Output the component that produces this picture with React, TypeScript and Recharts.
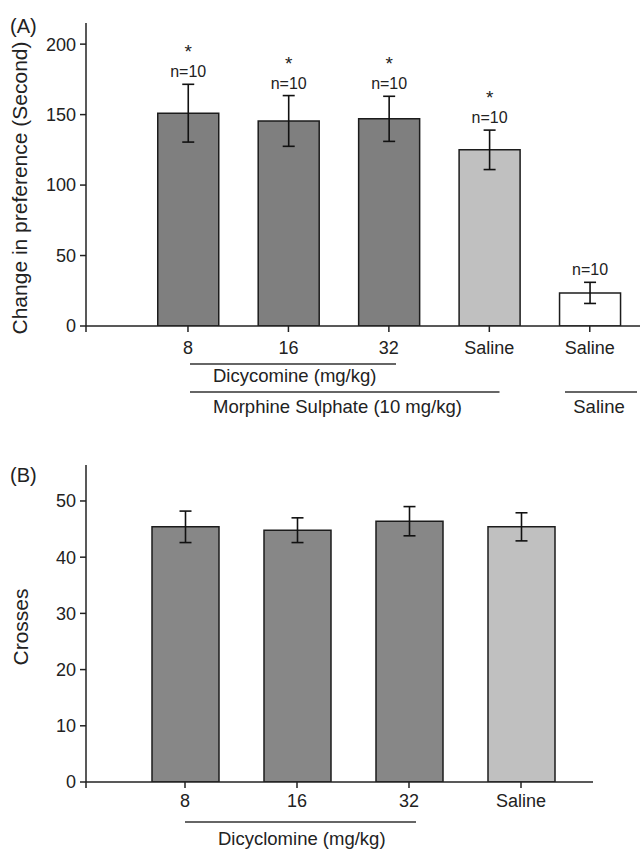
import { BarChart, Bar, XAxis, YAxis, ErrorBar, Cell, LabelList } from "recharts";

const FONT = '"Liberation Sans", Arial, Helvetica, sans-serif';
const INK = "#1c1c1c";

// (A) change in place preference, seconds
const groupsA = ["8", "16", "32", "Saline", "Saline"];
const prefMean = [151, 145.5, 147, 125, 23.5];
const prefSem = [20.5, 18, 16, 14, 7.5];
const prefN = ["n=10", "n=10", "n=10", "n=10", "n=10"];
const prefSig = ["*", "*", "*", "*", ""];
const ticksA = [0, 50, 100, 150, 200];

// (B) crosses
const groupsB = ["8", "16", "32", "Saline"];
const crossMean = [45.4, 44.8, 46.4, 45.4];
const crossSem = [2.8, 2.2, 2.6, 2.5];
const ticksB = [0, 10, 20, 30, 40, 50];

const FILL_A = ["#7f7f7f", "#7f7f7f", "#7f7f7f", "#c0c0c0", "#ffffff"];
const FILL_B = ["#878787", "#878787", "#878787", "#c0c0c0"];

const dataA = groupsA.map((g, i) => ({ key: `${g}-${i}`, mean: prefMean[i], sem: prefSem[i] }));
const dataB = groupsB.map((g, i) => ({ key: `${g}-${i}`, mean: crossMean[i], sem: crossSem[i] }));

// layout of both panels (page pixels)
const A = { left: 86, right: 640, top: 23, bottom: 326, padL: 51.75, band: 100.5 };
const B = { left: 86, right: 593, top: 465, bottom: 782, padL: 43, padR: 16, band: 112 };
const B_TOP = 440;
const cxA = (i: number) => A.left + A.padL + A.band * (i + 0.5);
const cxB = (i: number) => B.left + B.padL + B.band * (i + 0.5);

const tickStyle = { fontSize: 18, fill: "#222", fontFamily: FONT };

// n=10 and * above the error bars
function Annot(props: any) {
  const { x, y, width, height, value, index } = props;
  if (!value) return null;
  const pxPerUnit = height / value;
  const errTop = y - prefSem[index] * pxPerUnit;
  const cx = x + width / 2;
  return (
    <g fontFamily={FONT} fill="#222">
      <text x={cx} y={errTop - 7} textAnchor="middle" fontSize={16}>
        {prefN[index]}
      </text>
      {prefSig[index] && (
        <text x={cx} y={errTop - 26} textAnchor="middle" fontSize={19}>
          {prefSig[index]}
        </text>
      )}
    </g>
  );
}

function Overlay() {
  const line = { stroke: "#333", strokeWidth: 1.4 };
  return (
    <svg
      width={643}
      height={849}
      style={{ position: "absolute", left: 0, top: 0, pointerEvents: "none" }}
      fontFamily={FONT}
      fill="#222"
    >
      <text x={10} y={33} fontSize={20}>(A)</text>
      <text x={10} y={482} fontSize={20}>(B)</text>
      <text transform="translate(27,188) rotate(-90)" textAnchor="middle" fontSize={21}>
        Change in preference (Second)
      </text>
      <text transform="translate(28,627) rotate(-90)" textAnchor="middle" fontSize={21}>
        Crosses
      </text>

      {/* y axis runs a little past the origin */}
      <line x1={A.left} x2={A.left} y1={A.bottom} y2={A.bottom + 6} stroke="#222" strokeWidth={1.5} />
      <line x1={B.left} x2={B.left} y1={B.bottom} y2={B.bottom + 6} stroke="#222" strokeWidth={1.5} />

      {/* group brackets, panel A */}
      <line x1={cxA(0) + 2} x2={cxA(2) + 7} y1={364} y2={364} {...line} />
      <text x={213} y={382} fontSize={18.5}>Dicycomine (mg/kg)</text>
      <line x1={cxA(0) + 2} x2={cxA(3) + 10} y1={392} y2={392} {...line} />
      <text x={213} y={413} fontSize={18.5}>Morphine Sulphate (10 mg/kg)</text>
      <line x1={cxA(4) - 25} x2={cxA(4) + 47} y1={392} y2={392} {...line} />
      <text x={cxA(4) + 9} y={413} fontSize={18.5} textAnchor="middle">Saline</text>

      {/* group bracket, panel B */}
      <line x1={cxB(0)} x2={cxB(2) + 7} y1={822} y2={822} {...line} />
      <text x={218} y={845} fontSize={18.5}>Dicyclomine (mg/kg)</text>
    </svg>
  );
}

export default function App() {
  const hA = 430;
  const hB = 400;
  return (
    <div
      style={{
        position: "absolute",
        left: 0,
        top: 0,
        width: 643,
        height: 849,
        background: "#fff",
        overflow: "hidden",
        fontFamily: FONT,
      }}
    >
      <div style={{ position: "absolute", left: 0, top: 0 }}>
        <BarChart
          width={643}
          height={hA}
          data={dataA}
          margin={{ top: A.top, right: 643 - A.right, left: A.left - 50, bottom: hA - A.bottom - 30 }}
          barSize={61}
        >
          <XAxis
            dataKey="key"
            height={30}
            tickFormatter={(_v: string, i: number) => groupsA[i]}
            padding={{ left: A.padL, right: 0 }}
            axisLine={{ stroke: "#222", strokeWidth: 1.5 }}
            tickLine={{ stroke: "#222", strokeWidth: 1.5 }}
            tickSize={6}
            tickMargin={9}
            tick={tickStyle}
            interval={0}
          />
          <YAxis
            width={50}
            domain={[0, 215]}
            ticks={ticksA}
            allowDataOverflow
            axisLine={{ stroke: "#222", strokeWidth: 1.5 }}
            tickLine={{ stroke: "#222", strokeWidth: 1.5 }}
            tickSize={6}
            tickMargin={4}
            tick={tickStyle}
          />
          <Bar dataKey="mean" stroke={INK} strokeWidth={1.5} isAnimationActive={false}>
            {dataA.map((d, i) => (
              <Cell key={d.key} fill={FILL_A[i]} />
            ))}
            <ErrorBar dataKey="sem" width={6} strokeWidth={1.6} stroke="#111" direction="y" />
            <LabelList dataKey="mean" content={Annot} />
          </Bar>
        </BarChart>
      </div>

      <div style={{ position: "absolute", left: 0, top: B_TOP }}>
        <BarChart
          width={643}
          height={hB}
          data={dataB}
          margin={{
            top: B.top - B_TOP,
            right: 643 - B.right,
            left: B.left - 50,
            bottom: hB - (B.bottom - B_TOP) - 30,
          }}
          barSize={67}
        >
          <XAxis
            dataKey="key"
            height={30}
            tickFormatter={(_v: string, i: number) => groupsB[i]}
            padding={{ left: B.padL, right: B.padR }}
            axisLine={{ stroke: "#222", strokeWidth: 1.5 }}
            tickLine={{ stroke: "#222", strokeWidth: 1.5 }}
            tickSize={6}
            tickMargin={6}
            tick={tickStyle}
            interval={0}
          />
          <YAxis
            width={50}
            domain={[0, 56.4]}
            ticks={ticksB}
            allowDataOverflow
            axisLine={{ stroke: "#222", strokeWidth: 1.5 }}
            tickLine={{ stroke: "#222", strokeWidth: 1.5 }}
            tickSize={6}
            tickMargin={4}
            tick={tickStyle}
          />
          <Bar dataKey="mean" stroke={INK} strokeWidth={1.5} isAnimationActive={false}>
            {dataB.map((d, i) => (
              <Cell key={d.key} fill={FILL_B[i]} />
            ))}
            <ErrorBar dataKey="sem" width={6} strokeWidth={1.6} stroke="#111" direction="y" />
          </Bar>
        </BarChart>
      </div>

      <Overlay />
    </div>
  );
}
